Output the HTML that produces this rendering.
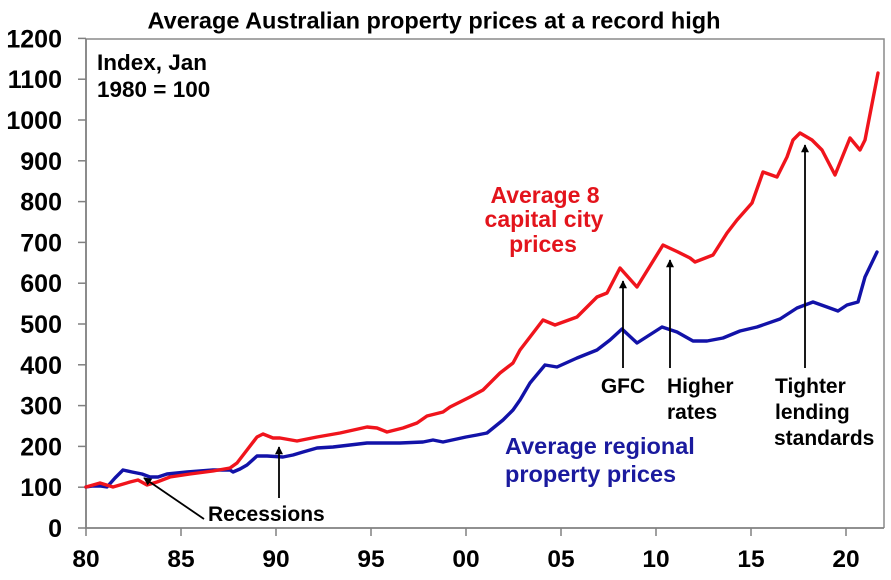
<!DOCTYPE html>
<html><head><meta charset="utf-8"><style>
html,body{margin:0;padding:0;background:#fff;}
svg{display:block;}
text{font-family:"Liberation Sans",Arial,sans-serif;font-weight:bold;}
</style></head><body>
<svg width="891" height="580" viewBox="0 0 891 580" xmlns="http://www.w3.org/2000/svg">
<defs>
<marker id="ah" viewBox="0 0 10 10" refX="9" refY="5" markerWidth="4.5" markerHeight="4.5" orient="auto-start-reverse">
<path d="M0,0 L10,5 L0,10 z" fill="#000"/>
</marker>
</defs>
<rect width="891" height="580" fill="#fff"/>
<text x="434" y="28.5" font-size="23.5" text-anchor="middle" fill="#000">Average Australian property prices at a record high</text>
<!-- frame -->
<path d="M86,39 L884,39 L884,528" fill="none" stroke="#8a8a8a" stroke-width="1.5"/>
<path d="M86,39 L86,528 L884,528" fill="none" stroke="#808080" stroke-width="1.8"/>
<!-- ticks -->
<g stroke="#808080" stroke-width="1.5">
<line x1="78" y1="528" x2="86" y2="528"/><line x1="78" y1="487.2" x2="86" y2="487.2"/>
<line x1="78" y1="446.4" x2="86" y2="446.4"/><line x1="78" y1="405.6" x2="86" y2="405.6"/>
<line x1="78" y1="364.8" x2="86" y2="364.8"/><line x1="78" y1="324" x2="86" y2="324"/>
<line x1="78" y1="283.2" x2="86" y2="283.2"/><line x1="78" y1="242.4" x2="86" y2="242.4"/>
<line x1="78" y1="201.6" x2="86" y2="201.6"/><line x1="78" y1="160.8" x2="86" y2="160.8"/>
<line x1="78" y1="120" x2="86" y2="120"/><line x1="78" y1="79.2" x2="86" y2="79.2"/>
<line x1="78" y1="38.4" x2="86" y2="38.4"/>
<line x1="86" y1="528" x2="86" y2="536"/><line x1="181" y1="528" x2="181" y2="536"/>
<line x1="276" y1="528" x2="276" y2="536"/><line x1="371" y1="528" x2="371" y2="536"/>
<line x1="466" y1="528" x2="466" y2="536"/><line x1="561" y1="528" x2="561" y2="536"/>
<line x1="656" y1="528" x2="656" y2="536"/><line x1="751" y1="528" x2="751" y2="536"/>
<line x1="846" y1="528" x2="846" y2="536"/>
</g>
<g font-size="25" text-anchor="end" fill="#000">
<text x="62" y="537">0</text><text x="62" y="496.2">100</text><text x="62" y="455.4">200</text>
<text x="62" y="414.6">300</text><text x="62" y="373.8">400</text><text x="62" y="333">500</text>
<text x="62" y="292.2">600</text><text x="62" y="251.4">700</text><text x="62" y="210.6">800</text>
<text x="62" y="169.8">900</text><text x="62" y="129">1000</text><text x="62" y="88.2">1100</text>
<text x="62" y="47.4">1200</text>
</g>
<g font-size="24.5" text-anchor="middle" fill="#000">
<text x="86" y="567">80</text><text x="181" y="567">85</text><text x="276" y="567">90</text>
<text x="371" y="567">95</text><text x="466" y="567">00</text><text x="561" y="567">05</text>
<text x="656" y="567">10</text><text x="751" y="567">15</text><text x="846" y="567">20</text>
</g>
<text x="97" y="70" font-size="22.5" fill="#000">Index, Jan</text>
<text x="97" y="97" font-size="22.5" fill="#000">1980 = 100</text>
<!-- series -->
<polyline fill="none" stroke="#1212a8" stroke-width="3.4" stroke-linejoin="round" stroke-linecap="round" points="86,487 93,486 100,486 107,487 115,478 123,470 132,472 142,474 150,477 158,477 167,474 187,472 213,470 230,470 233,472 240,469 247,465 257,456 267,456 283,457 293,455 303,452 317,448 333,447 350,445 367,443 400,443 423,442 433,440 443,442 466,437 477,435 487,433 503,420 513,410 520,400 530,383 545,365 557,367 577,358 597,350 610,340 622,329 637,343 662,327 677,332 693,341 707,341 723,338 740,331 757,327 780,319 797,308 813,302 827,307 838,311 847,305 858,302 865,277 877,252"/>
<polyline fill="none" stroke="#f0141c" stroke-width="3.4" stroke-linejoin="round" stroke-linecap="round" points="86,487 100,483 113,487 130,482 138,480 147,485 157,482 170,477 190,474 213,471 230,468 237,463 247,450 257,437 263,434 273,438 280,438 297,441 317,437 340,433 367,427 377,428 387,432 403,428 417,423 427,416 443,412 450,407 470,397 483,390 500,373 513,363 520,350 530,337 543,320 555,325 577,317 597,297 607,293 620,268 637,287 663,245 678,252 690,258 695,262 713,255 727,233 737,220 752,203 763,172 777,177 787,157 793,140 800,133 812,140 822,150 835,175 850,138 860,150 865,140 878,73"/>
<!-- series labels -->
<g font-size="23" text-anchor="middle" fill="#e3141c">
<text x="545" y="203">Average 8</text>
<text x="544" y="227">capital city</text>
<text x="543" y="252">prices</text>
</g>
<g font-size="23.5" fill="#1a1a9e">
<text x="505" y="454">Average regional</text>
<text x="505" y="482">property prices</text>
</g>
<!-- annotations -->
<g stroke="#000" stroke-width="1.8" marker-end="url(#ah)">
<line x1="204" y1="519" x2="144" y2="478"/>
<line x1="279" y1="498" x2="279" y2="447"/>
<line x1="623" y1="368" x2="623" y2="281"/>
<line x1="670" y1="368" x2="670" y2="260"/>
<line x1="805" y1="368" x2="805" y2="145"/>
</g>
<g font-size="21" fill="#000">
<text x="208" y="521">Recessions</text>
<text x="623" y="393" text-anchor="middle">GFC</text>
<text x="667" y="393">Higher</text>
<text x="667" y="419">rates</text>
<text x="775" y="393">Tighter</text>
<text x="775" y="419">lending</text>
<text x="774" y="445">standards</text>
</g>
</svg>
</body></html>
